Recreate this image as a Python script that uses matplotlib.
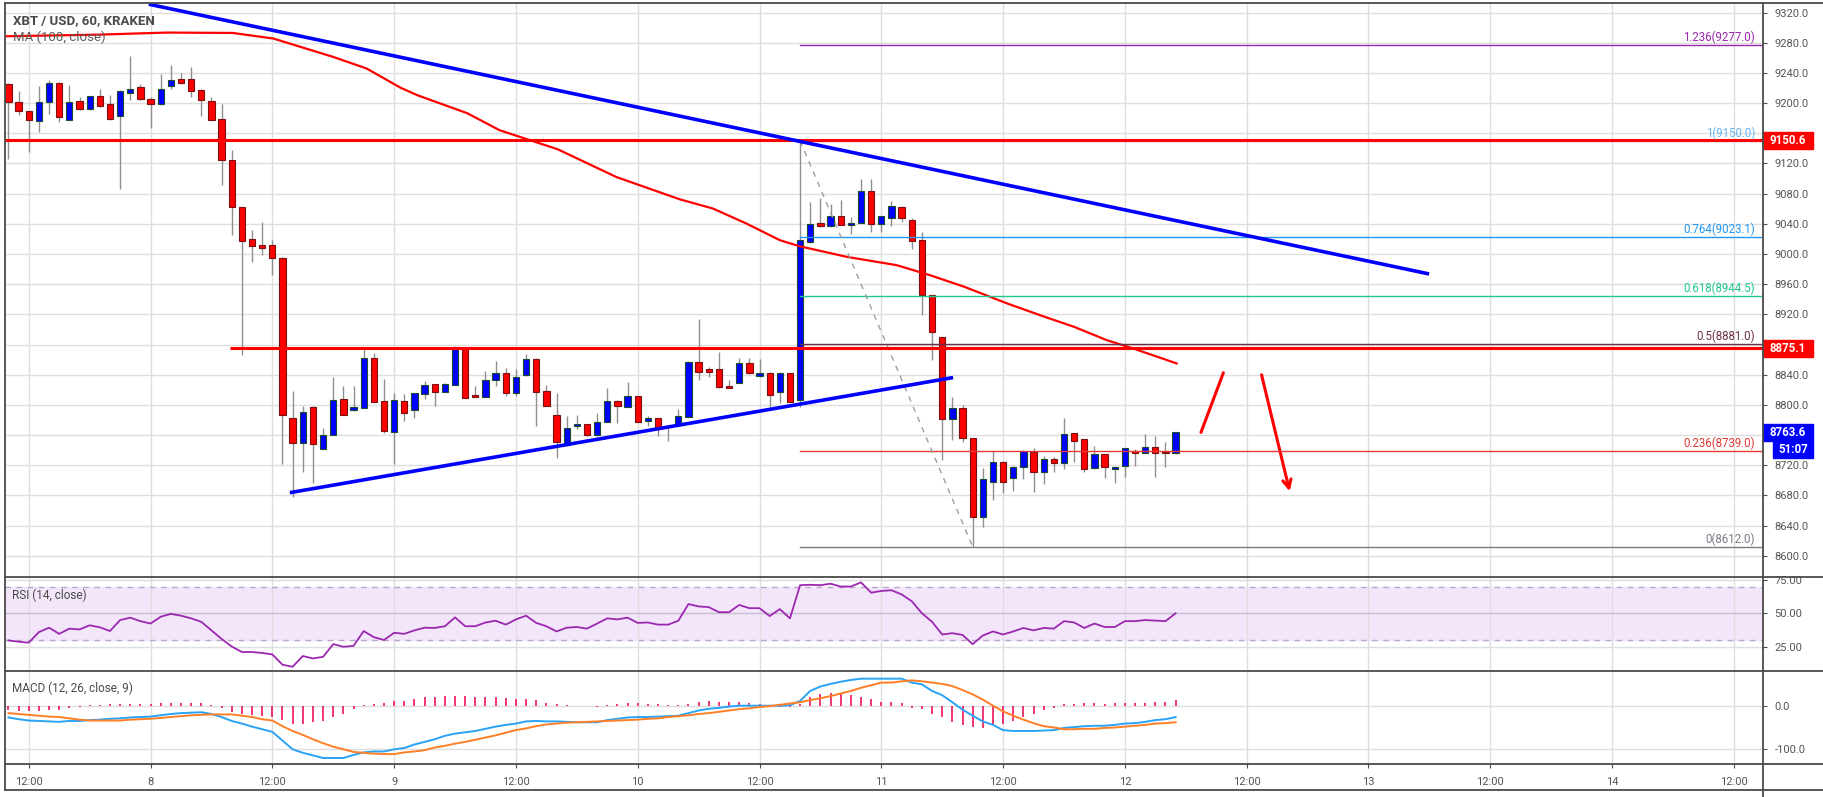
import numpy as np
import matplotlib
matplotlib.use("Agg")
import matplotlib.pyplot as plt
import matplotlib.transforms as mtransforms
from matplotlib.lines import Line2D
from matplotlib.patches import Rectangle

plt.rcParams['font.family'] = ['Roboto', 'DejaVu Sans']

# hourly candles, hours counted from 7 Nov 00:00
hours = list(range(10, 126))
opens = [9225.0, 9201.6, 9189.2, 9176.4, 9201.6, 9227.2, 9178.2, 9202.5, 9192.8, 9209.1,
         9198.5, 9183.0, 9214.0, 9221.0, 9206.0, 9199.4, 9222.3, 9231.6, 9231.6, 9217.0,
         9203.4, 9179.5, 9124.3, 9062.0, 9020.5, 9011.6, 9011.6, 8995.3, 8782.2, 8750.0,
         8796.8, 8741.2, 8760.2, 8807.4, 8792.9, 8796.4, 8861.7, 8805.2, 8764.6, 8805.2,
         8792.9, 8814.0, 8827.3, 8817.6, 8826.0, 8875.0, 8812.7, 8811.0, 8832.6, 8842.7,
         8816.2, 8839.2, 8860.4, 8818.5, 8786.2, 8746.5, 8772.5, 8774.3, 8759.7, 8777.8,
         8805.2, 8797.7, 8811.4, 8778.7, 8782.2, 8770.8, 8773.4, 8784.5, 8856.9, 8846.9,
         8846.9, 8825.3, 8829.2, 8855.7, 8838.1, 8842.5, 8816.4, 8841.6, 8806.3, 9016.0,
         9041.7, 9037.2, 9050.9, 9039.0, 9041.2, 9083.2, 9040.3, 9048.3, 9062.9, 9045.6,
         9018.2, 8945.4, 8890.2, 8780.7, 8795.2, 8755.5, 8651.7, 8697.2, 8724.6, 8703.4,
         8718.0, 8737.0, 8711.3, 8727.7, 8723.2, 8762.1, 8754.2, 8715.7, 8734.7, 8714.4,
         8718.8, 8739.2, 8736.5, 8743.6, 8737.4, 8735.6]
highs = [9227.0, 9216.2, 9189.5, 9222.3, 9231.2, 9228.0, 9223.6, 9208.2, 9210.0, 9219.3,
         9210.4, 9217.0, 9262.1, 9225.9, 9208.2, 9238.2, 9250.2, 9240.5, 9248.0, 9219.3,
         9208.2, 9199.4, 9137.5, 9062.5, 9031.5, 9042.6, 9018.3, 8996.0, 8818.5, 8798.6,
         8798.6, 8769.9, 8837.0, 8825.0, 8825.0, 8875.8, 8868.3, 8833.9, 8816.2, 8814.0,
         8816.2, 8831.7, 8828.2, 8829.5, 8878.0, 8876.0, 8825.0, 8845.0, 8858.2, 8848.5,
         8847.2, 8867.9, 8862.6, 8826.4, 8816.2, 8785.3, 8786.2, 8775.2, 8789.8, 8822.0,
         8806.0, 8830.8, 8812.0, 8785.3, 8783.0, 8772.5, 8794.2, 8858.2, 8913.2, 8850.5,
         8870.3, 8832.8, 8861.5, 8861.5, 8860.2, 8843.0, 8843.0, 8842.0, 9150.0, 9069.0,
         9074.8, 9066.0, 9071.2, 9049.0, 9100.0, 9100.0, 9051.0, 9070.4, 9063.0, 9048.3,
         9029.3, 8946.0, 8890.5, 8810.7, 8799.7, 8756.0, 8715.7, 8739.2, 8725.0, 8718.5,
         8740.0, 8742.3, 8732.1, 8731.0, 8782.0, 8763.0, 8754.5, 8745.3, 8735.0, 8718.5,
         8742.5, 8742.0, 8761.2, 8758.6, 8750.2, 8764.5]
lows = [9126.5, 9183.9, 9135.3, 9161.8, 9186.1, 9175.1, 9177.0, 9191.4, 9191.4, 9195.0,
        9177.3, 9086.7, 9203.8, 9204.0, 9167.6, 9198.0, 9219.3, 9225.9, 9208.2, 9182.6,
        9177.0, 9091.2, 9024.9, 8866.0, 8989.6, 8998.4, 8971.9, 8722.0, 8678.0, 8711.0,
        8696.7, 8741.0, 8760.0, 8786.0, 8792.0, 8796.0, 8804.0, 8763.3, 8721.3, 8778.7,
        8782.2, 8807.4, 8798.6, 8817.0, 8826.0, 8809.0, 8810.0, 8811.0, 8825.0, 8811.8,
        8811.8, 8838.3, 8772.0, 8798.0, 8730.0, 8745.6, 8768.6, 8759.0, 8759.0, 8777.0,
        8776.5, 8797.0, 8777.0, 8772.0, 8758.9, 8752.2, 8773.0, 8784.0, 8832.8, 8837.2,
        8823.0, 8821.7, 8829.0, 8840.7, 8837.2, 8797.5, 8801.9, 8804.0, 8797.5, 9015.0,
        9036.0, 9036.0, 9038.0, 9026.2, 9041.0, 9029.3, 9029.0, 9036.8, 9042.5, 9007.2,
        8918.9, 8859.3, 8726.8, 8753.3, 8751.1, 8612.0, 8637.6, 8673.8, 8683.5, 8686.2,
        8701.2, 8684.8, 8695.0, 8711.3, 8714.4, 8724.6, 8711.3, 8715.0, 8702.5, 8695.9,
        8703.8, 8718.8, 8736.0, 8704.7, 8717.1, 8735.0]
closes = [9201.6, 9189.6, 9178.2, 9201.6, 9227.2, 9181.7, 9201.6, 9192.8, 9209.1, 9196.3,
          9179.5, 9215.7, 9219.3, 9205.5, 9199.4, 9219.3, 9230.3, 9227.2, 9216.6, 9204.7,
          9178.2, 9125.1, 9062.4, 9017.4, 9010.8, 9008.1, 8995.3, 8786.5, 8750.0, 8791.0,
          8748.7, 8759.7, 8806.1, 8786.7, 8797.3, 8861.7, 8804.3, 8765.5, 8806.1, 8789.8,
          8815.4, 8826.0, 8817.6, 8827.3, 8875.0, 8809.6, 8810.5, 8832.6, 8841.8, 8815.4,
          8837.4, 8860.4, 8817.6, 8798.6, 8751.3, 8769.9, 8774.3, 8759.7, 8777.4, 8805.2,
          8798.6, 8811.4, 8777.8, 8782.2, 8769.0, 8772.1, 8784.9, 8856.9, 8844.1, 8843.8,
          8823.9, 8823.0, 8855.7, 8841.6, 8842.5, 8812.9, 8842.5, 8804.1, 9018.3, 9040.3,
          9037.2, 9050.9, 9039.0, 9041.7, 9083.2, 9040.3, 9050.9, 9063.7, 9048.3, 9017.4,
          8945.4, 8896.0, 8780.7, 8795.2, 8755.5, 8651.7, 8701.2, 8724.6, 8697.2, 8718.0,
          8738.7, 8711.3, 8727.7, 8723.2, 8760.8, 8752.4, 8714.9, 8734.7, 8717.1, 8718.0,
          8742.2, 8736.5, 8743.6, 8736.5, 8735.6, 8763.6]

# MA(100, close)
ma_hours = [9.8, 19.0, 25.6, 32.1, 36.1, 42.0, 45.3, 48.6, 50.3, 55.2, 58.4, 64.1, 69.9, 76.2,
            79.4, 82.7, 86.0, 87.9, 92.6, 97.5, 100.8, 104.2, 108.4, 112.1, 115.0, 118.2, 120.8, 125.1]
ma_vals = [9288.6, 9290.8, 9293.5, 9293.0, 9285.6, 9261.2, 9245.8, 9220.6, 9210.4, 9186.6, 9164.0,
           9138.9, 9102.0, 9072.2, 9060.3, 9040.4, 9018.3, 9010.4, 8996.2, 8985.2, 8971.9, 8956.4,
           8934.4, 8916.7, 8903.4, 8885.8, 8874.8, 8854.9]

rsi = [29.7, 28.7, 28.0, 35.9, 39.2, 34.6, 38.5, 37.9, 41.0, 39.5, 36.7, 44.9, 46.7, 44.1, 42.3,
       47.4, 49.5, 48.2, 46.2, 43.6, 37.2, 30.8, 25.1, 21.0, 21.0, 20.3, 19.2, 11.5, 10.0, 18.0,
       16.2, 17.4, 26.9, 24.9, 25.6, 36.7, 32.1, 30.0, 35.4, 34.6, 37.2, 39.2, 39.0, 40.3, 46.9,
       40.3, 40.3, 43.1, 44.4, 41.5, 45.4, 48.2, 42.8, 40.3, 36.4, 39.2, 39.7, 38.5, 42.3, 46.2,
       45.4, 46.7, 42.8, 43.1, 41.5, 41.5, 44.4, 56.9, 55.1, 54.6, 50.8, 50.8, 56.2, 53.8, 53.8,
       47.9, 53.1, 46.2, 71.0, 71.3, 71.0, 72.1, 70.0, 70.0, 73.1, 65.4, 66.7, 67.2, 64.1, 59.0,
       50.0, 43.6, 34.1, 35.1, 33.8, 26.9, 33.3, 36.4, 34.1, 36.4, 39.0, 37.2, 39.0, 38.5, 44.1,
       43.1, 39.0, 42.3, 39.7, 39.7, 44.1, 44.1, 44.9, 44.5, 44.1, 50.0]

macd = [-27, -31, -34, -35, -36, -37, -35, -35, -33, -32, -30, -29, -27, -26, -25, -22, -19, -17, -16, -15,
        -19, -26, -35, -41, -48, -54, -60, -80, -100, -108, -114, -120, -120, -120, -113, -107, -105, -105, -100, -97,
        -89, -83, -77, -69, -64, -61, -58, -53, -48, -44, -41, -36, -35, -36, -36, -37, -38, -38, -38, -33,
        -30, -27, -26, -26, -25, -24, -23, -17, -11, -7, -5, -2, 0, 0, 0, 0, 0, 1, 11, 34,
        44, 50, 55, 59, 62, 62, 62, 62, 62, 53, 49, 34, 24, 8, -9, -23, -36, -44, -56, -58,
        -58, -58, -57, -56, -51, -49, -47, -46, -46, -44, -41, -40, -37, -33, -31, -26]
signal = [-17, -19, -21, -23, -25, -26, -29, -32, -34, -34, -34, -34, -32, -31, -30, -28, -26, -24, -22, -21,
          -20, -20, -20, -23, -26, -31, -34, -47, -58, -67, -77, -86, -94, -100, -106, -108, -110, -111, -111, -107,
          -105, -102, -96, -92, -87, -83, -78, -73, -68, -62, -56, -52, -47, -43, -41, -39, -38, -37, -36, -35,
          -34, -33, -32, -30, -29, -26, -24, -22, -19, -17, -14, -11, -8, -6, -3, -1, 2, 5, 8, 13,
          17, 22, 28, 34, 41, 47, 53, 53, 56, 58, 56, 53, 50, 45, 36, 26, 14, 0, -13, -23,
          -32, -40, -47, -50, -54, -54, -53, -53, -51, -50, -48, -46, -44, -41, -40, -38]

tick_hours = [12, 24, 36, 48, 60, 72, 84, 96, 108, 120, 132, 144, 156, 168, 180]
tick_labels = ['12:00', '8', '12:00', '9', '12:00', '10', '12:00', '11',
               '12:00', '12', '12:00', '13', '12:00', '14', '12:00']

fib_names = ['1.236', '1', '0.764', '0.618', '0.5', '0.236', '0']
fib_prices = [9277.0, 9150.0, 9023.1, 8944.5, 8881.0, 8739.0, 8612.0]
fib_colors = ['#9c27b0', '#64b5f6', '#2196f3', '#1fc98e', '#6d2f45', '#e53935', '#787b86']

resist_levels = [9150.6, 8875.1]
resist_start = [9.6, 31.8]
down_line = ([24.0, 149.8], [9330.6, 8974.0])
up_line = ([37.9, 102.9], [8684.0, 8835.8])

# scale labels that sit under the coloured price tags
hidden_ticks = [9160, 8880, 8760]

W, H = 1823, 797
fig = plt.figure(figsize=(W / 100, H / 100), dpi=100)
fig.patch.set_facecolor('white')

x0, x1 = 4.7, 1763.3
def box(top, bottom):
    return [x0 / W, 1 - bottom / H, (x1 - x0) / W, (bottom - top) / H]

ax = fig.add_axes(box(3.3, 577.3))
ax_rsi = fig.add_axes(box(577.3, 671.0), sharex=ax)
ax_macd = fig.add_axes(box(671.0, 764.3), sharex=ax)

xlim = (9.63, 182.9)
grid_c = '#dedede'
axis_c = '#4a4a4a'
label_c = '#555555'

for a in (ax, ax_rsi, ax_macd):
    for s in a.spines.values():
        s.set_visible(False)
    a.set_xticks(tick_hours)
    a.grid(True, color=grid_c, lw=1)
    a.set_axisbelow(True)
    a.yaxis.tick_right()
    a.tick_params(axis='y', length=3, color=axis_c, labelcolor=label_c, labelsize=8, pad=5)
    a.tick_params(axis='x', length=0, labelbottom=False)

ax.set_xlim(*xlim)

# --- price pane ---
ax.set_ylim(8571.4, 9332.3)
ax.set_yticks(np.arange(8600, 9321, 40))
ax.yaxis.set_major_formatter(matplotlib.ticker.FuncFormatter(
    lambda v, pos: '' if round(v) in hidden_ticks else f'{v:.1f}'))

o = np.array(opens)
c = np.array(closes)
up = c >= o
body_col = np.where(up, '#0000ff', '#ff0000')
edge_col = np.where(up, '#1b4d2a', '#7a1010')
ax.vlines(hours, lows, highs, color='#8f8f8f', lw=1, zorder=2)
ax.bar(hours, c - o, bottom=o, width=0.62, color=body_col, edgecolor=edge_col, linewidth=0.8, zorder=3)

ax.plot(ma_hours, ma_vals, color='#ff0000', lw=1.6, zorder=4)

for lvl, st in zip(resist_levels, resist_start):
    ax.plot([st, xlim[1]], [lvl, lvl], color='#ff0000', lw=2.2, zorder=5, solid_capstyle='butt')

ax.plot(*down_line, color='#0000ff', lw=2.6, zorder=6)
ax.plot(*up_line, color='#0000ff', lw=2.6, zorder=6)

# fibonacci retracement
for name, p, col in zip(fib_names, fib_prices, fib_colors):
    ax.plot([88, 182.7], [p, p], color=col, lw=1, zorder=4)
    ax.text(182.1, p + 1, f'{name}({p:.1f})', color=col, fontsize=8.3, ha='right', va='bottom', zorder=7)
ax.plot([88, 105], [9150.0, 8612.0], color='#9e9e9e', lw=1, ls=(0, (4, 4)), zorder=4)

# drawn arrows
ax.annotate('', xy=(129.8, 8846), xytext=(127.4, 8760),
            arrowprops=dict(arrowstyle='-', color='#ff0000', lw=2.2))
ax.annotate('', xy=(136.3, 8681.8), xytext=(133.4, 8843.4),
            arrowprops=dict(arrowstyle='->,head_length=0.6,head_width=0.3', color='#ff0000', lw=2.2))

# price tags on the right scale
trans = mtransforms.blended_transform_factory(ax.transAxes, ax.transData)
def tag(y, text, color, left=1.0, width=0.0281, h=22.1):
    ax.add_patch(Rectangle((left, y - h / 2), width, h, transform=trans, color=color,
                           clip_on=False, zorder=10))
    ax.text(left + width / 2, y, text, transform=trans, color='white', fontsize=8.3,
            fontweight='bold', ha='center', va='center', clip_on=False, zorder=11)

tag(9150.6, '9150.6', '#ff0000')
tag(8875.1, '8875.1', '#ff0000')
tag(8763.6, '8763.6', '#0000ff')
tag(8740.9, '51:07', '#0000ff', left=1.0057, width=0.0224)

# --- RSI pane ---
ax_rsi.set_ylim(6.8, 76.9)
ax_rsi.set_yticks([25, 50, 75])
ax_rsi.yaxis.set_major_formatter(matplotlib.ticker.FormatStrFormatter('%.2f'))
ax_rsi.axhspan(30, 70, color='#f3e6fb', zorder=0.5)
ax_rsi.axhline(70, color='#b9a6c9', lw=1, ls=(0, (4, 4)))
ax_rsi.axhline(30, color='#b9a6c9', lw=1, ls=(0, (4, 4)))
ax_rsi.axhline(50, color='#c8bfd2', lw=1)
ax_rsi.plot(hours, rsi, color='#9c27b0', lw=1.3, zorder=3)

# --- MACD pane ---
ax_macd.set_ylim(-134.4, 79.6)
ax_macd.set_yticks([0, -100])
ax_macd.yaxis.set_major_formatter(matplotlib.ticker.FormatStrFormatter('%.1f'))
hist = np.array(macd) - np.array(signal)
ax_macd.vlines(hours, 0, hist, color='#f0145a', lw=1.2, zorder=2)
ax_macd.plot(hours, macd, color='#29a3f5', lw=1.4, zorder=3)
ax_macd.plot(hours, signal, color='#ff7f27', lw=1.4, zorder=3)
ax_macd.set_xticklabels(tick_labels)
ax_macd.tick_params(axis='x', length=3, color=axis_c, labelbottom=True, labelsize=8,
                    labelcolor=label_c, pad=6)

# titles
fig.text(13.3 / W, 1 - 21 / H, 'XBT / USD, 60, KRAKEN', fontsize=9.5, fontweight='bold',
         color='#4a4a4a', va='center')
fig.text(13.3 / W, 1 - 37.5 / H, 'MA (100, close)', fontsize=9.5, color='#5d5d5d', va='center')
fig.text(12 / W, 1 - 595.5 / H, 'RSI (14, close)', fontsize=8.5, color='#4a4a4a', va='center')
fig.text(12 / W, 1 - 688.5 / H, 'MACD (12, 26, close, 9)', fontsize=8.5, color='#4a4a4a', va='center')

# pane borders
def hline(y, xa=x0, xb=W):
    fig.add_artist(Line2D([xa / W, xb / W], [1 - y / H, 1 - y / H], color=axis_c, lw=1.3))
def vline(x, ya, yb):
    fig.add_artist(Line2D([x / W, x / W], [1 - ya / H, 1 - yb / H], color=axis_c, lw=1.3))

for y in (3.3, 577.3, 671.0, 764.3, 790.0):
    hline(y)
vline(x0, 3.3, 790.0)
vline(x1, 3.3, H)

fig.savefig('out.png', dpi=100)
